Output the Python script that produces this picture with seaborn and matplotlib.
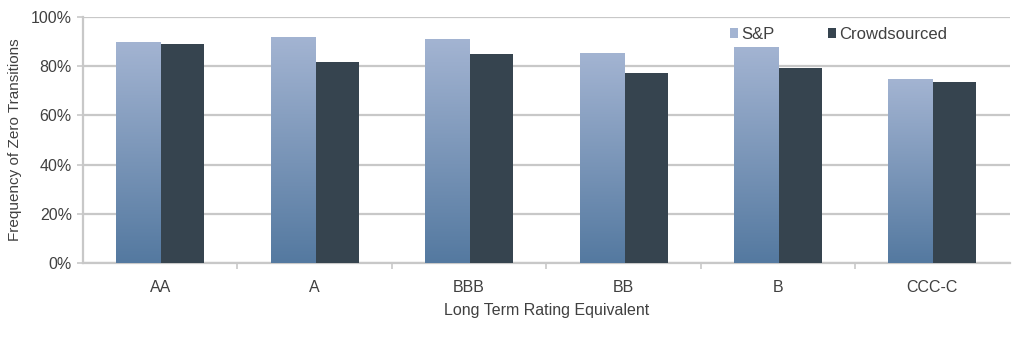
import numpy as np
import pandas as pd
import matplotlib
matplotlib.use("Agg")
import matplotlib.pyplot as plt
import seaborn as sns
from matplotlib.colors import LinearSegmentedColormap
from matplotlib.patches import Patch

ratings = ["AA", "A", "BBB", "BB", "B", "CCC-C"]
sp_values = [89.7, 91.5, 90.7, 85.0, 87.4, 74.4]
crowd_values = [89.2, 81.8, 84.8, 77.3, 79.1, 73.5]
series_names = ["S&P", "Crowdsourced"]
y_ticks = [0, 20, 40, 60, 80, 100]

df = pd.DataFrame({
    "rating": ratings * 2,
    "value": sp_values + crowd_values,
    "source": [series_names[0]] * len(ratings) + [series_names[1]] * len(ratings),
})

sns.set_theme(style="white")
plt.rcParams["font.family"] = ["Liberation Sans", "DejaVu Sans"]

text_color = "#404040"
grid_color = "#C8C8C8"
sp_top, sp_bottom = "#A3B4D2", "#5479A0"
crowd_color = "#36444F"

fig = plt.figure(figsize=(10.24, 3.37), dpi=100, facecolor="white")
ax = fig.add_axes([0.081, 0.2196, 0.905, 0.73])

sns.barplot(data=df, x="rating", y="value", hue="source",
            palette=[sp_top, crowd_color], width=0.57, gap=0,
            saturation=1, legend=False, ax=ax, zorder=3,
            linewidth=0, edgecolor="none")

# vertical gradient fill for the S&P bars
grad = LinearSegmentedColormap.from_list("sp", [sp_bottom, sp_top])
gradient = np.linspace(0, 1, 256).reshape(-1, 1)
sp_bars = ax.containers[0]
for bar in sp_bars:
    x0, w, h = bar.get_x(), bar.get_width(), bar.get_height()
    bar.set_facecolor("none")
    bar.set_edgecolor("none")
    ax.imshow(gradient, cmap=grad, origin="lower", aspect="auto",
              extent=[x0, x0 + w, 0, h], zorder=3)

ax.set_xlim(-0.5, len(ratings) - 0.5)
ax.set_ylim(0, 100)
ax.set_yticks(y_ticks)
ax.set_yticklabels([f"{t}%" for t in y_ticks])
ax.yaxis.grid(True, color=grid_color, linewidth=1.6, zorder=0)
ax.set_axisbelow(True)

# category-boundary tick marks on the x axis
ax.set_xticks(range(len(ratings)))
ax.set_xticklabels(ratings)
ax.set_xticks(np.arange(0.5, len(ratings) - 0.5, 1), minor=True)
ax.tick_params(axis="x", which="major", length=0, pad=12,
               labelsize=11.5, labelcolor=text_color)
ax.tick_params(axis="x", which="minor", length=4, width=1.2,
               color=grid_color, direction="out", bottom=True)
ax.tick_params(axis="y", length=4, width=1.2, color=grid_color,
               direction="out", left=True, labelsize=11.5,
               labelcolor=text_color, pad=4)

for side in ["top", "right"]:
    ax.spines[side].set_visible(False)
for side in ["left", "bottom"]:
    ax.spines[side].set_color(grid_color)
    ax.spines[side].set_linewidth(1.6)

ax.set_xlabel("Long Term Rating Equivalent", fontsize=11.5,
              color=text_color, labelpad=6)
ax.set_ylabel("Frequency of Zero Transitions", fontsize=11,
              color=text_color, labelpad=6)

handles = [Patch(facecolor=sp_top, edgecolor="none"),
           Patch(facecolor=crowd_color, edgecolor="none")]
leg = ax.legend(handles, series_names, loc="upper left",
                bbox_to_anchor=(0.687, 1.0), ncol=2, frameon=False,
                fontsize=12, handlelength=0.5, handleheight=0.5,
                handletextpad=0.2, columnspacing=3.2, borderaxespad=0.2)
for t in leg.get_texts():
    t.set_color(text_color)

fig.savefig("out.png", dpi=100, facecolor="white")
